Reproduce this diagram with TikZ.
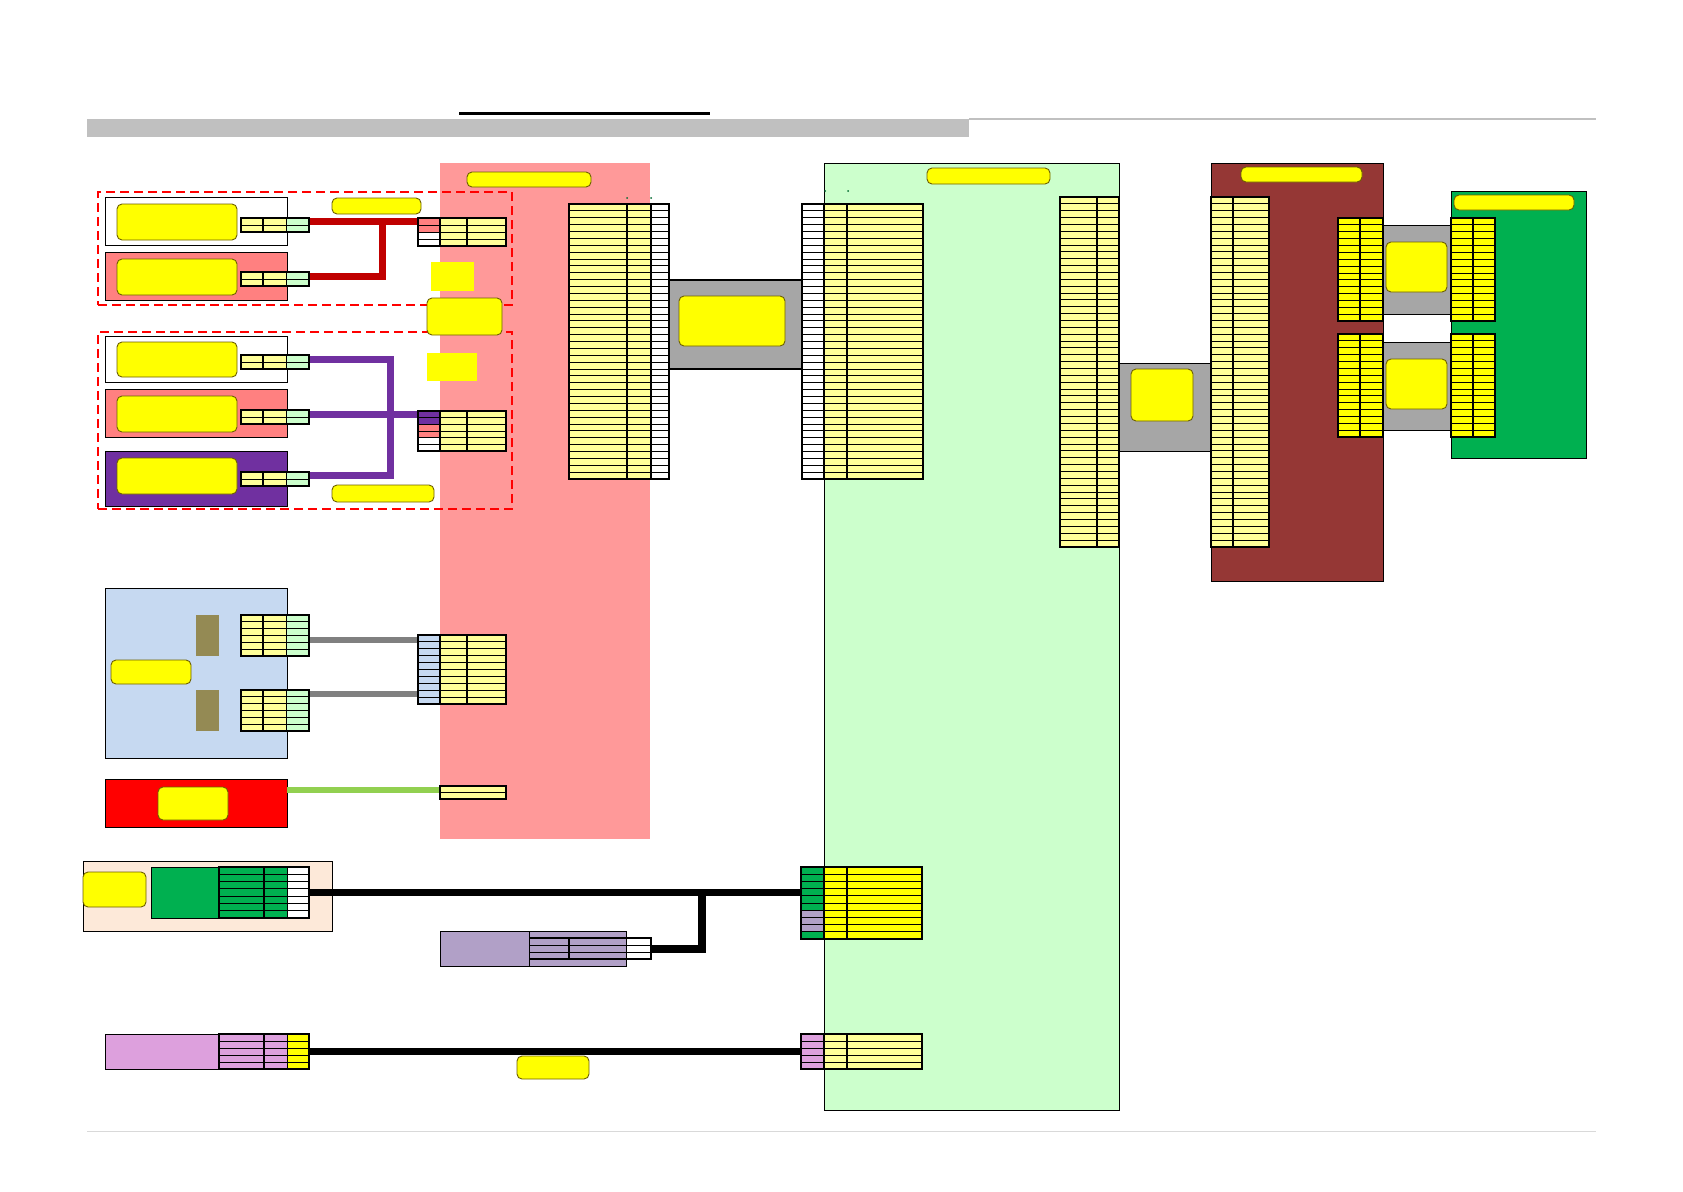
\documentclass[tikz,border=0pt]{standalone}
\usetikzlibrary{fit}
\definecolor{ly}{HTML}{FFFF99}
\definecolor{lgc}{HTML}{CCFFCC}
\definecolor{sal}{HTML}{FF8080}
\definecolor{pur}{HTML}{7030A0}
\definecolor{pinkreg}{HTML}{FF9999}
\definecolor{wred}{HTML}{C00000}
\definecolor{wgray}{HTML}{808080}
\definecolor{wgreen}{HTML}{92D050}
\definecolor{lblue}{HTML}{C6D9F1}
\definecolor{olivebox}{HTML}{948A54}
\definecolor{peach}{HTML}{FDE9D9}
\definecolor{dgreen}{HTML}{00B050}
\definecolor{lav}{HTML}{B1A0C7}
\definecolor{orch}{HTML}{DDA0DD}
\definecolor{brown}{HTML}{953735}
\definecolor{bridge}{HTML}{A6A6A6}
\definecolor{barg}{HTML}{C0C0C0}
\definecolor{yborder}{HTML}{6E6000}
\definecolor{yel}{HTML}{FFFF00}
\tikzset{
  ylab/.style={draw=yborder,fill=yel,line width=0.9pt,rounded corners=5pt},
  ysq/.style={fill=yel},
  boxw/.style={draw=black,line width=0.8pt},
  region/.style={draw=black,line width=0.8pt},
  dashbox/.style={draw=red,line width=1.5pt,dash pattern=on 9pt off 5pt},
  bridgebox/.style={draw=black,line width=1.4pt,fill=bridge},
  wire/.style={line width=7pt,line cap=butt,line join=miter},
}
\newcommand{\rbox}[6][]{\node[inner sep=0pt,outer sep=0pt,fit={(#3,#4)(#5,#6)},#1] (#2) {};}
\newcommand{\tcol}[6]{%
  \foreach \k in {1,...,#4}{%
    \filldraw[fill=#6,draw=black,line width=0.9pt] (#1,{#3+(\k-1)*#5}) rectangle (#2,{#3+\k*#5});
  }}
\newcommand{\tcolc}[5]{%
  \foreach \c [count=\k] in {#5}{%
    \filldraw[fill=\c,draw=black,line width=0.9pt] (#1,{#3+(\k-1)*#4}) rectangle (#2,{#3+\k*#4});
  }}
\newcommand{\tframe}[4]{\draw[line width=1.6pt] (#1,#2) rectangle (#3,#4);}
\newcommand{\vdiv}[3]{\draw[line width=1.6pt] (#1,#2) -- (#1,#3);}
\begin{document}
\begin{tikzpicture}[x=1pt,y=-1pt]
\useasboundingbox (0,0) rectangle (1683,1191);
\fill[white] (0,0) rectangle (1683,1191);
% top decorations
\draw[line width=3pt] (459,113.5) -- (710,113.5);
\fill[barg] (87,119) rectangle (969,137);
\draw[barg,line width=2pt] (969,119) -- (1596,119);
\draw[black!15,line width=1pt] (87,1131) -- (1596,1131);
% regions
\rbox[fill=pinkreg]{pinkR}{440}{163}{650}{839}
\rbox[region,fill=lgc]{greenR}{824}{163}{1119}{1110}
\rbox[region,fill=brown]{brownR}{1211}{163}{1383}{581}
\rbox[region,fill=dgreen]{dgreenR}{1451}{191}{1586}{458}
\rbox[ylab]{pinkL}{467}{172}{591}{187}
\rbox[ylab]{greenL}{927}{168}{1050}{184}
\rbox[ylab]{brownL}{1241}{167}{1362}{182}
\rbox[ylab]{dgreenL}{1454}{195}{1574}{210}
% tiny marks
\foreach \p in {(627,198),(651,198),(825,191),(848,191)} \fill[dgreen!60!black] \p circle (1pt);
% dashed groups
\rbox[dashbox]{grp1}{98}{192}{512}{305}
\rbox[dashbox]{grp2}{98}{332}{512}{509}
% left boxes
\rbox[boxw,fill=white]{boxA}{105}{197}{287}{245}
\rbox[ylab]{yA}{117}{204}{237}{240}
\rbox[boxw,fill=sal]{boxB}{105}{252}{287}{300}
\rbox[ylab]{yB}{117}{259}{237}{295}
\rbox[boxw,fill=white]{boxC}{105}{336}{287}{382}
\rbox[ylab]{yC}{117}{342}{237}{377}
\rbox[boxw,fill=sal]{boxD}{105}{389}{287}{437}
\rbox[ylab]{yD}{117}{396}{237}{432}
\rbox[boxw,fill=pur]{boxE}{105}{451}{287}{506}
\rbox[ylab]{yE}{117}{458}{237}{494}
\rbox[ylab]{lab1}{332}{198}{421}{214}
\rbox[ylab]{lab2}{332}{485}{434}{502}
\rbox[ysq]{sq1}{431}{262}{474}{291}
\rbox[ysq]{sq2}{427}{353}{477}{381}
% wires red
\coordinate (rA) at (309,221); \coordinate (rB) at (309,276);
\coordinate (rR) at (418,221); \coordinate (rJ) at (382,221);
\draw[wire,wred] (rA) -- (rR);
\draw[wire,wred] (rB) -| (rJ);
% wires purple
\coordinate (pC) at (309,359); \coordinate (pD) at (309,414);
\coordinate (pE) at (309,475); \coordinate (pR) at (418,414);
\coordinate (pJ) at (390,359); \coordinate (pK) at (390,475);
\draw[wire,pur] (pC) -- (pJ) -- (pK) -- (pE);
\draw[wire,pur] (pD) -- (pR);
\rbox[ylab]{yMid}{427}{298}{502}{335}
% left connectors (2 rows)
\foreach \yy in {218,272,355,410,472}{%
  \tcol{241}{263}{\yy}{2}{7}{ly}
  \tcol{263}{286}{\yy}{2}{7}{ly}
  \tcol{286}{309}{\yy}{2}{7}{lgc}
  \tframe{241}{\yy}{309}{\yy+14}
  \vdiv{263}{\yy}{\yy+14}
}
% red right connector
\tcolc{418}{440}{218}{7}{sal,sal,white,white}
\tcol{440}{467}{218}{4}{7}{ly}
\tcol{467}{506}{218}{4}{7}{ly}
\tframe{418}{218}{506}{246}\vdiv{440}{218}{246}\vdiv{467}{218}{246}
% purple right connector
\tcolc{418}{440}{411}{6.7}{pur,pur,sal,sal,white,white}
\tcol{440}{467}{411}{6}{6.7}{ly}
\tcol{467}{506}{411}{6}{6.7}{ly}
\tframe{418}{411}{506}{451.2}\vdiv{440}{411}{451.2}\vdiv{467}{411}{451.2}
% blue box
\rbox[boxw,fill=lblue]{boxBlue}{105}{588}{287}{758}
\rbox[ylab]{yBlue}{111}{660}{191}{684}
\rbox[fill=olivebox]{ol1}{196}{615}{219}{656}
\rbox[fill=olivebox]{ol2}{196}{690}{219}{731}
\coordinate (g1a) at (309,640); \coordinate (g1b) at (418,640);
\coordinate (g2a) at (309,694); \coordinate (g2b) at (418,694);
\draw[wire,wgray,line width=6pt] (g1a) -- (g1b);
\draw[wire,wgray,line width=6pt] (g2a) -- (g2b);
\foreach \yy in {615,690}{%
  \tcol{241}{263}{\yy}{6}{6.85}{ly}
  \tcol{263}{286}{\yy}{6}{6.85}{ly}
  \tcol{286}{309}{\yy}{6}{6.85}{lgc}
  \tframe{241}{\yy}{309}{\yy+41.1}
  \vdiv{263}{\yy}{\yy+41.1}
}
\tcol{418}{440}{635}{10}{6.9}{lblue}
\tcol{440}{467}{635}{10}{6.9}{ly}
\tcol{467}{506}{635}{10}{6.9}{ly}
\tframe{418}{635}{506}{704}\vdiv{440}{635}{704}\vdiv{467}{635}{704}
% red box
\rbox[boxw,fill=red]{boxRed}{105}{779}{287}{827}
\rbox[ylab]{yRed}{158}{787}{228}{820}
\coordinate (gr1) at (287,789.5); \coordinate (gr2) at (440,789.5);
\draw[wire,wgreen,line width=6pt] (gr1) -- (gr2);
\tcol{440}{506}{786}{2}{6.5}{ly}
\tframe{440}{786}{506}{799}
% peach group
\rbox[boxw,fill=peach]{boxPeach}{83}{861}{332}{931}
\rbox[ylab]{yPeach}{83}{872}{146}{907}
\rbox[draw=black,line width=0.6pt,fill=dgreen]{dgBlock}{151}{867}{219}{918}
\rbox[draw=black,line width=0.8pt,fill=lav]{lavBlock}{440}{931}{626}{966}
\draw[line width=0.8pt] (529,931) -- (529,966);
\coordinate (k1) at (309,892); \coordinate (k2) at (801,892);
\coordinate (kJ) at (702,892); \coordinate (kL) at (651,949);
\draw[wire,black] (k1) -- (k2);
\draw[wire,black,line width=8pt] (kL) -| ([yshift=3.5pt]kJ);
\tcol{219}{264}{867}{7}{7.3}{dgreen}
\tcol{264}{287}{867}{7}{7.3}{dgreen}
\tcol{287}{309}{867}{7}{7.3}{white}
\tframe{219}{867}{309}{918.1}\vdiv{264}{867}{918.1}
\tcol{529}{569}{938}{3}{7}{lav}
\tcol{569}{626}{938}{3}{7}{lav}
\tcol{626}{651}{938}{3}{7}{white}
\draw[line width=1.6pt] (529,938) -- (651,938) -- (651,959) -- (529,959);
\vdiv{569}{938}{959}
\tcolc{801}{824}{867}{7.2}{dgreen,dgreen,dgreen,dgreen,dgreen,dgreen,lav,lav,lav,dgreen}
\tcol{824}{847}{867}{10}{7.2}{yel}
\tcol{847}{922}{867}{10}{7.2}{yel}
\tframe{801}{867}{922}{939}\vdiv{824}{867}{939}\vdiv{847}{867}{939}
% orchid group
\rbox[draw=black,line width=0.8pt,fill=orch]{orBlock}{105}{1034}{219}{1069}
\coordinate (m1) at (309,1051); \coordinate (m2) at (801,1051);
\draw[wire,black] (m1) -- (m2);
\tcol{219}{264}{1034}{5}{7}{orch}
\tcol{264}{287}{1034}{5}{7}{orch}
\tcol{287}{309}{1034}{5}{7}{yel}
\tframe{219}{1034}{309}{1069}\vdiv{264}{1034}{1069}
\tcol{801}{824}{1034}{5}{7}{orch}
\tcol{824}{847}{1034}{5}{7}{ly}
\tcol{847}{922}{1034}{5}{7}{ly}
\tframe{801}{1034}{922}{1069}\vdiv{824}{1034}{1069}\vdiv{847}{1034}{1069}
\rbox[ylab]{yBot}{517}{1056}{589}{1079}
% big tables and bridge 1
\rbox[bridgebox]{br1}{669}{280}{802}{369}
\rbox[ylab]{ybr1}{679}{296}{785}{346}
\tcol{569}{627}{204}{40}{6.875}{ly}
\tcol{627}{651}{204}{40}{6.875}{ly}
\tcol{651}{669}{204}{40}{6.875}{white}
\tframe{569}{204}{669}{479}\vdiv{627}{204}{479}\vdiv{651}{204}{479}
\tcol{802}{824}{204}{40}{6.875}{white}
\tcol{824}{847}{204}{40}{6.875}{ly}
\tcol{847}{923}{204}{40}{6.875}{ly}
\tframe{802}{204}{923}{479}\vdiv{824}{204}{479}\vdiv{847}{204}{479}
% bridge 2 and long tables
\rbox[bridgebox,line width=0.8pt]{br2}{1119}{363}{1211}{451}
\rbox[ylab]{ybr2}{1131}{369}{1193}{421}
\tcol{1060}{1097}{197}{51}{6.86}{ly}
\tcol{1097}{1119}{197}{51}{6.86}{ly}
\tframe{1060}{197}{1119}{546.9}\vdiv{1097}{197}{546.9}
\tcol{1211}{1233}{197}{51}{6.86}{ly}
\tcol{1233}{1269}{197}{51}{6.86}{ly}
\tframe{1211}{197}{1269}{546.9}\vdiv{1233}{197}{546.9}
% bridges 3,4 and small tables
\rbox[bridgebox,line width=0.8pt]{br3}{1383}{225}{1451}{314}
\rbox[ylab]{ybr3}{1386}{242}{1447}{292}
\rbox[bridgebox,line width=0.8pt]{br4}{1383}{342}{1451}{430}
\rbox[ylab]{ybr4}{1386}{359}{1447}{409}
\foreach \yy in {218,334}{%
  \tcol{1338}{1360}{\yy}{15}{6.87}{yel}
  \tcol{1360}{1383}{\yy}{15}{6.87}{yel}
  \tframe{1338}{\yy}{1383}{\yy+103}\vdiv{1360}{\yy}{\yy+103}
  \tcol{1451}{1473}{\yy}{15}{6.87}{yel}
  \tcol{1473}{1495}{\yy}{15}{6.87}{yel}
  \tframe{1451}{\yy}{1495}{\yy+103}\vdiv{1473}{\yy}{\yy+103}
}
\end{tikzpicture}
\end{document}
